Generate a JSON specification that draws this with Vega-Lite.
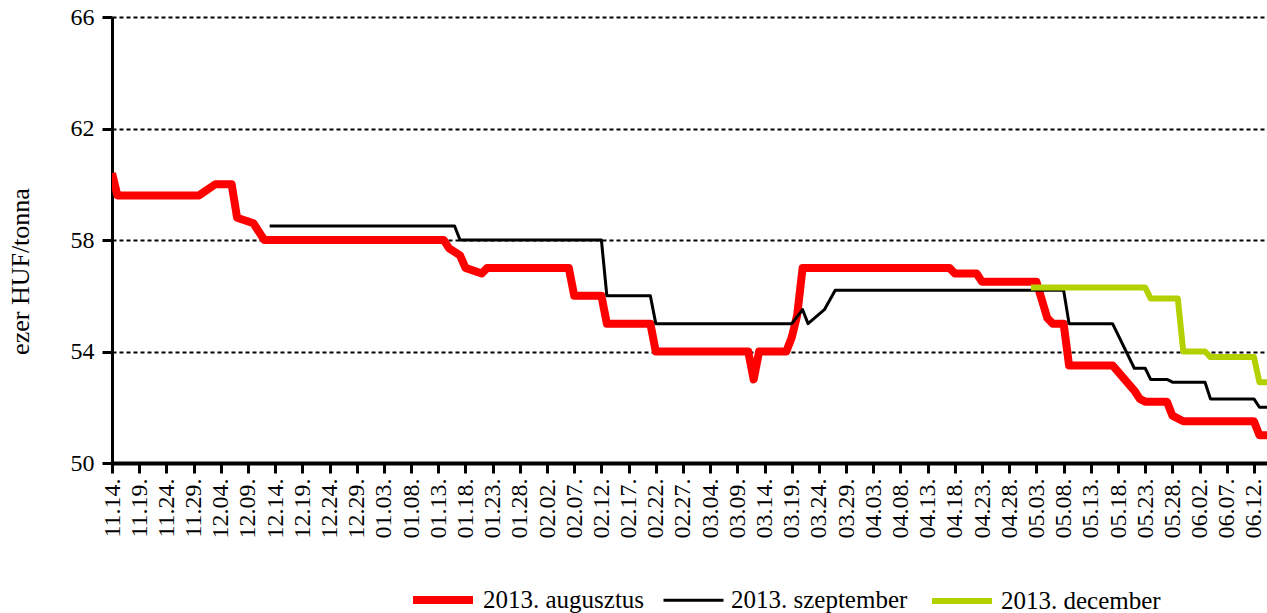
{
  "$schema": "https://vega.github.io/schema/vega-lite/v6.json",
  "width": 1155,
  "height": 446,
  "autosize": "none",
  "padding": {"left": 112, "top": 17, "right": 0, "bottom": 150},
  "background": "white",
  "config": {
    "view": {"stroke": null},
    "font": "Liberation Serif",
    "axis": {"labelFont": "Liberation Serif", "titleFont": "Liberation Serif", "labelColor": "black", "titleColor": "black", "domainColor": "black", "tickColor": "black", "titleFontWeight": "normal"},
    "legend": {"labelFont": "Liberation Serif", "labelLimit": 400}
  },
  "data": {
    "values": [
      {"s": "2013. augusztus", "d": "2012-11-14", "v": 60.4},
      {"s": "2013. augusztus", "d": "2012-11-15", "v": 59.6},
      {"s": "2013. augusztus", "d": "2012-11-30", "v": 59.6},
      {"s": "2013. augusztus", "d": "2012-12-03", "v": 60.0},
      {"s": "2013. augusztus", "d": "2012-12-06", "v": 60.0},
      {"s": "2013. augusztus", "d": "2012-12-07", "v": 58.8},
      {"s": "2013. augusztus", "d": "2012-12-10", "v": 58.6},
      {"s": "2013. augusztus", "d": "2012-12-12", "v": 58.0},
      {"s": "2013. augusztus", "d": "2013-01-14", "v": 58.0},
      {"s": "2013. augusztus", "d": "2013-01-15", "v": 57.7},
      {"s": "2013. augusztus", "d": "2013-01-17", "v": 57.45},
      {"s": "2013. augusztus", "d": "2013-01-18", "v": 57.0},
      {"s": "2013. augusztus", "d": "2013-01-21", "v": 56.8},
      {"s": "2013. augusztus", "d": "2013-01-22", "v": 57.0},
      {"s": "2013. augusztus", "d": "2013-02-06", "v": 57.0},
      {"s": "2013. augusztus", "d": "2013-02-07", "v": 56.0},
      {"s": "2013. augusztus", "d": "2013-02-12", "v": 56.0},
      {"s": "2013. augusztus", "d": "2013-02-13", "v": 55.0},
      {"s": "2013. augusztus", "d": "2013-02-21", "v": 55.0},
      {"s": "2013. augusztus", "d": "2013-02-22", "v": 54.0},
      {"s": "2013. augusztus", "d": "2013-03-11", "v": 54.0},
      {"s": "2013. augusztus", "d": "2013-03-12", "v": 53.0},
      {"s": "2013. augusztus", "d": "2013-03-13", "v": 54.0},
      {"s": "2013. augusztus", "d": "2013-03-18", "v": 54.0},
      {"s": "2013. augusztus", "d": "2013-03-19", "v": 54.5},
      {"s": "2013. augusztus", "d": "2013-03-20", "v": 55.3},
      {"s": "2013. augusztus", "d": "2013-03-21", "v": 57.0},
      {"s": "2013. augusztus", "d": "2013-04-17", "v": 57.0},
      {"s": "2013. augusztus", "d": "2013-04-18", "v": 56.8},
      {"s": "2013. augusztus", "d": "2013-04-22", "v": 56.8},
      {"s": "2013. augusztus", "d": "2013-04-23", "v": 56.5},
      {"s": "2013. augusztus", "d": "2013-05-03", "v": 56.5},
      {"s": "2013. augusztus", "d": "2013-05-05", "v": 55.2},
      {"s": "2013. augusztus", "d": "2013-05-06", "v": 55.0},
      {"s": "2013. augusztus", "d": "2013-05-08", "v": 55.0},
      {"s": "2013. augusztus", "d": "2013-05-09", "v": 53.5},
      {"s": "2013. augusztus", "d": "2013-05-17", "v": 53.5},
      {"s": "2013. augusztus", "d": "2013-05-21", "v": 52.6},
      {"s": "2013. augusztus", "d": "2013-05-22", "v": 52.3},
      {"s": "2013. augusztus", "d": "2013-05-23", "v": 52.2},
      {"s": "2013. augusztus", "d": "2013-05-27", "v": 52.2},
      {"s": "2013. augusztus", "d": "2013-05-28", "v": 51.7},
      {"s": "2013. augusztus", "d": "2013-05-30", "v": 51.5},
      {"s": "2013. augusztus", "d": "2013-06-12", "v": 51.5},
      {"s": "2013. augusztus", "d": "2013-06-13", "v": 51.0},
      {"s": "2013. augusztus", "d": "2013-06-14", "v": 51.0},
      {"s": "2013. augusztus", "d": "2013-06-15", "v": 51.0},
      {"s": "2013. szeptember", "d": "2012-12-13", "v": 58.5},
      {"s": "2013. szeptember", "d": "2013-01-16", "v": 58.5},
      {"s": "2013. szeptember", "d": "2013-01-17", "v": 58.0},
      {"s": "2013. szeptember", "d": "2013-02-12", "v": 58.0},
      {"s": "2013. szeptember", "d": "2013-02-13", "v": 56.0},
      {"s": "2013. szeptember", "d": "2013-02-21", "v": 56.0},
      {"s": "2013. szeptember", "d": "2013-02-22", "v": 55.0},
      {"s": "2013. szeptember", "d": "2013-03-19", "v": 55.0},
      {"s": "2013. szeptember", "d": "2013-03-21", "v": 55.5},
      {"s": "2013. szeptember", "d": "2013-03-22", "v": 55.0},
      {"s": "2013. szeptember", "d": "2013-03-25", "v": 55.5},
      {"s": "2013. szeptember", "d": "2013-03-27", "v": 56.2},
      {"s": "2013. szeptember", "d": "2013-05-08", "v": 56.2},
      {"s": "2013. szeptember", "d": "2013-05-09", "v": 55.0},
      {"s": "2013. szeptember", "d": "2013-05-17", "v": 55.0},
      {"s": "2013. szeptember", "d": "2013-05-21", "v": 53.4},
      {"s": "2013. szeptember", "d": "2013-05-23", "v": 53.4},
      {"s": "2013. szeptember", "d": "2013-05-24", "v": 53.0},
      {"s": "2013. szeptember", "d": "2013-05-27", "v": 53.0},
      {"s": "2013. szeptember", "d": "2013-05-28", "v": 52.9},
      {"s": "2013. szeptember", "d": "2013-06-03", "v": 52.9},
      {"s": "2013. szeptember", "d": "2013-06-04", "v": 52.3},
      {"s": "2013. szeptember", "d": "2013-06-12", "v": 52.3},
      {"s": "2013. szeptember", "d": "2013-06-13", "v": 52.0},
      {"s": "2013. szeptember", "d": "2013-06-14", "v": 52.0},
      {"s": "2013. szeptember", "d": "2013-06-15", "v": 52.0},
      {"s": "2013. december", "d": "2013-05-02", "v": 56.3},
      {"s": "2013. december", "d": "2013-05-23", "v": 56.3},
      {"s": "2013. december", "d": "2013-05-24", "v": 55.9},
      {"s": "2013. december", "d": "2013-05-29", "v": 55.9},
      {"s": "2013. december", "d": "2013-05-30", "v": 54.0},
      {"s": "2013. december", "d": "2013-06-03", "v": 54.0},
      {"s": "2013. december", "d": "2013-06-04", "v": 53.8},
      {"s": "2013. december", "d": "2013-06-12", "v": 53.8},
      {"s": "2013. december", "d": "2013-06-13", "v": 52.9},
      {"s": "2013. december", "d": "2013-06-14", "v": 52.9},
      {"s": "2013. december", "d": "2013-06-15", "v": 52.9}
    ]
  },
  "mark": {"type": "line", "clip": true, "strokeJoin": "round", "strokeCap": "butt"},
  "encoding": {
    "x": {
      "field": "d",
      "type": "temporal",
      "scale": {"type": "utc", "domain": [1352851200000, 1371202560000]},
      "axis": {
        "title": null,
        "format": "%m.%d.",
        "values": [1352851200000, 1353283200000, 1353715200000, 1354147200000, 1354579200000, 1355011200000, 1355443200000, 1355875200000, 1356307200000, 1356739200000, 1357171200000, 1357603200000, 1358035200000, 1358467200000, 1358899200000, 1359331200000, 1359763200000, 1360195200000, 1360627200000, 1361059200000, 1361491200000, 1361923200000, 1362355200000, 1362787200000, 1363219200000, 1363651200000, 1364083200000, 1364515200000, 1364947200000, 1365379200000, 1365811200000, 1366243200000, 1366675200000, 1367107200000, 1367539200000, 1367971200000, 1368403200000, 1368835200000, 1369267200000, 1369699200000, 1370131200000, 1370563200000, 1370995200000],
        "labelAngle": 270,
        "labelFontSize": 24,
        "labelPadding": 5,
        "labelOverlap": false,
        "labelFlush": false,
        "tickSize": 10,
        "tickWidth": 3,
        "domainWidth": 4,
        "grid": false
      }
    },
    "y": {
      "field": "v",
      "type": "quantitative",
      "scale": {"domain": [50, 66], "nice": false, "zero": false},
      "axis": {
        "title": "ezer HUF/tonna",
        "titleFontSize": 26,
        "titleX": -84,
        "titleY": 254,
        "titleBaseline": "alphabetic",
        "titleAngle": 270,
        "values": [50, 54, 58, 62, 66],
        "labelFontSize": 24,
        "labelPadding": 8,
        "tickSize": 10,
        "tickWidth": 3,
        "domainWidth": 3,
        "grid": true,
        "gridColor": "black",
        "gridDash": [4, 3],
        "gridWidth": 2,
        "gridOpacity": 1
      }
    },
    "color": {
      "field": "s",
      "type": "nominal",
      "scale": {"domain": ["2013. augusztus", "2013. szeptember", "2013. december"], "range": ["#ff0000", "#000000", "#b3d100"]},
      "legend": {
        "title": null,
        "orient": "none",
        "direction": "horizontal",
        "legendX": 297,
        "legendY": 549,
        "symbolType": "stroke",
        "symbolSize": 3600,
        "labelFontSize": 25,
        "labelLimit": 400,
        "labelColor": "black",
        "labelOffset": 6,
        "columnPadding": 12,
        "padding": 0
      }
    },
    "strokeWidth": {
      "field": "s",
      "type": "nominal",
      "scale": {"type": "ordinal", "domain": ["2013. augusztus", "2013. szeptember", "2013. december"], "range": [8, 3, 6]},
      "legend": {
        "title": null,
        "orient": "none",
        "direction": "horizontal",
        "legendX": 297,
        "legendY": 549,
        "symbolType": "stroke",
        "symbolSize": 3600,
        "labelFontSize": 25,
        "labelLimit": 400,
        "labelColor": "black",
        "labelOffset": 6,
        "columnPadding": 12,
        "padding": 0
      }
    }
  }
}
